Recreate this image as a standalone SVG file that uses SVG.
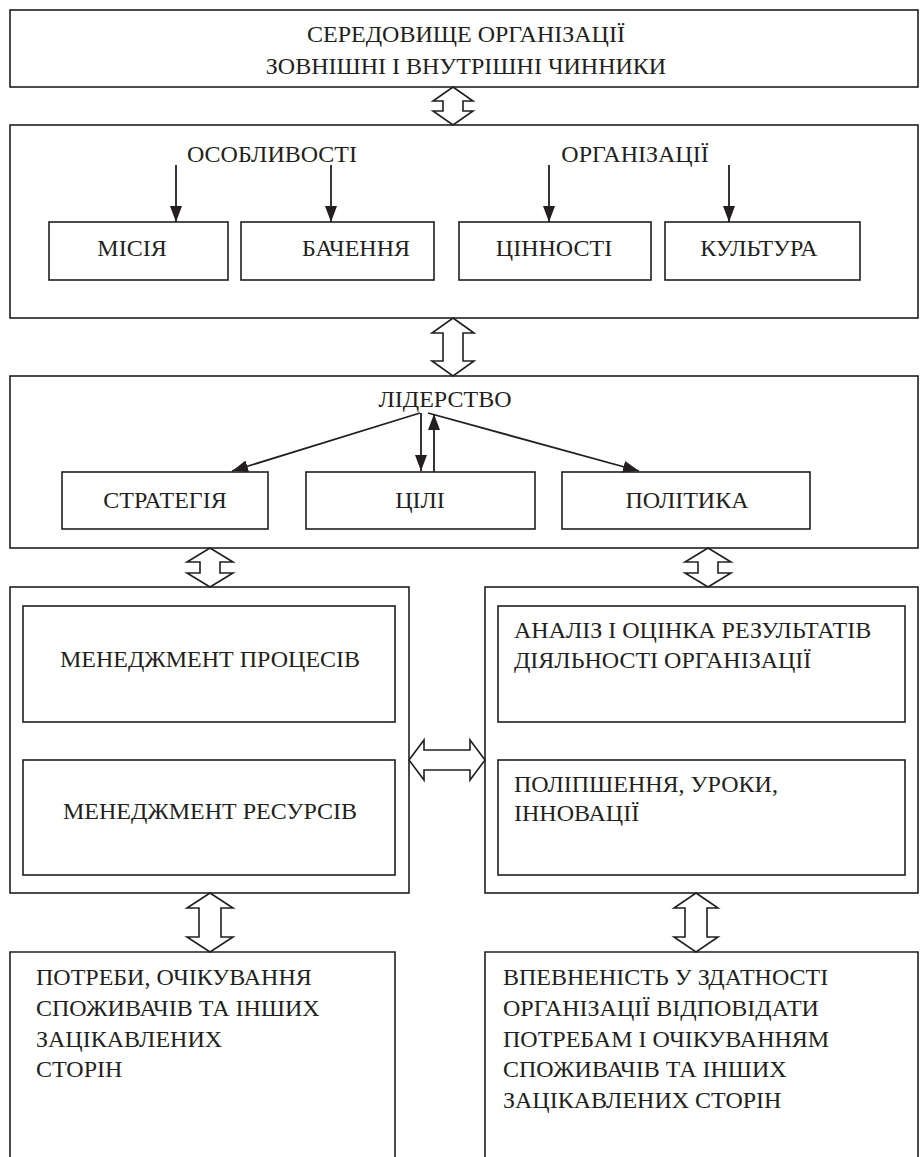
<svg xmlns="http://www.w3.org/2000/svg" width="922" height="1157" viewBox="0 0 922 1157" font-family="Liberation Serif, serif">
<style>
rect.b{fill:#fff;stroke:#231f20;stroke-width:1.6}
path.bx{fill:none;stroke:#231f20;stroke-width:1.6}
text{font-size:24px;fill:#231f20}
.c{text-anchor:middle}
.dbl{fill:#fff;stroke:#231f20;stroke-width:1.6;stroke-linejoin:miter}
.ln{stroke:#231f20;stroke-width:1.8;fill:none}
</style>
<defs>
<marker id="ahl" viewBox="0 0 16 12" refX="16" refY="6" markerWidth="16" markerHeight="12" markerUnits="userSpaceOnUse" orient="auto">
<path d="M0,0 L16,6 L0,12 z" fill="#231f20"/>
</marker>
</defs>
<rect width="922" height="1157" fill="#fff"/>

<g id="environment">
<rect class="b" x="10" y="10" width="908" height="77"/>
<text class="c" x="466" y="42" font-family="Liberation Serif">СЕРЕДОВИЩЕ ОРГАНІЗАЦІЇ</text>
<text class="c" x="466" y="74" font-family="Liberation Serif">ЗОВНІШНІ І ВНУТРІШНІ ЧИННИКИ</text>
</g>

<g id="features">
<rect class="b" x="10" y="125" width="908" height="193"/>
<text class="c" x="272" y="162">ОСОБЛИВОСТІ</text>
<text class="c" x="635" y="162">ОРГАНІЗАЦІЇ</text>
</g>
<g id="mission"><rect class="b" x="49" y="222" width="179" height="58"/><text class="c" x="132" y="256">МІСІЯ</text></g>
<g id="vision"><rect class="b" x="241" y="222" width="193" height="58"/><text class="c" x="356" y="256">БАЧЕННЯ</text></g>
<g id="values"><rect class="b" x="459" y="222" width="192" height="58"/><text class="c" x="554" y="256">ЦІННОСТІ</text></g>
<g id="culture"><rect class="b" x="665" y="222" width="195" height="58"/><text class="c" x="759" y="256">КУЛЬТУРА</text></g>

<g id="leadership">
<rect class="b" x="10" y="376" width="908" height="172"/>
<text class="c" x="445" y="407">ЛІДЕРСТВО</text>
</g>
<g id="strategy"><rect class="b" x="62" y="472" width="206" height="57"/><text class="c" x="165" y="508">СТРАТЕГІЯ</text></g>
<g id="goals"><rect class="b" x="306" y="472" width="229" height="57"/><text class="c" x="420" y="508">ЦІЛІ</text></g>
<g id="policy"><rect class="b" x="562" y="472" width="248" height="57"/><text class="c" x="687" y="508">ПОЛІТИКА</text></g>

<g id="left-block">
<rect class="b" x="10" y="587" width="399" height="306"/>
</g>
<g id="process-mgmt"><rect class="b" x="23" y="606" width="372" height="116"/><text class="c" x="210" y="667">МЕНЕДЖМЕНТ ПРОЦЕСІВ</text></g>
<g id="resource-mgmt"><rect class="b" x="23" y="760" width="372" height="115"/><text class="c" x="210" y="819">МЕНЕДЖМЕНТ РЕСУРСІВ</text></g>

<g id="right-block">
<rect class="b" x="485" y="587" width="433" height="306"/>
</g>
<g id="analysis"><rect class="b" x="498" y="606" width="407" height="116"/><text x="514" y="638">АНАЛІЗ І ОЦІНКА РЕЗУЛЬТАТІВ</text><text x="514" y="668">ДІЯЛЬНОСТІ ОРГАНІЗАЦІЇ</text></g>
<g id="improvement"><rect class="b" x="498" y="760" width="407" height="115"/><text x="514" y="792">ПОЛІПШЕННЯ, УРОКИ,</text><text x="514" y="821">ІННОВАЦІЇ</text></g>

<g id="needs">
<path class="bx" d="M10,1160 V952 H395 V1160"/>
<text x="36" y="985">ПОТРЕБИ, ОЧІКУВАННЯ</text>
<text x="36" y="1016">СПОЖИВАЧІВ ТА ІНШИХ</text>
<text x="36" y="1047">ЗАЦІКАВЛЕНИХ</text>
<text x="36" y="1077">СТОРІН</text>
</g>
<g id="confidence">
<path class="bx" d="M485,1160 V952 H918 V1160"/>
<text x="503" y="985">ВПЕВНЕНІСТЬ У ЗДАТНОСТІ</text>
<text x="503" y="1016">ОРГАНІЗАЦІЇ ВІДПОВІДАТИ</text>
<text x="503" y="1047">ПОТРЕБАМ І ОЧІКУВАННЯМ</text>
<text x="503" y="1077">СПОЖИВАЧІВ ТА ІНШИХ</text>
<text x="503" y="1108">ЗАЦІКАВЛЕНИХ СТОРІН</text>
</g>

<g id="connectors">
<path class="ln" d="M176,165 V222" marker-end="url(#ahl)"/>
<path class="ln" d="M331,165 V222" marker-end="url(#ahl)"/>
<path class="ln" d="M549,165 V222" marker-end="url(#ahl)"/>
<path class="ln" d="M729,165 V222" marker-end="url(#ahl)"/>
<path class="ln" d="M420,413 L232,471" marker-end="url(#ahl)"/>
<path class="ln" d="M421,413 V471" marker-end="url(#ahl)"/>
<path class="ln" d="M434,472 V414" marker-end="url(#ahl)"/>
<path class="ln" d="M428,413 L639,471" marker-end="url(#ahl)"/>
<polygon class="dbl" points="453,87 473,101 463,101 463,111 473,111 453,125 433,111 443,111 443,101 433,101"/>
<polygon class="dbl" points="453,318 474,333 463,333 463,361 474,361 453,376 432,361 443,361 443,333 432,333"/>
<polygon class="dbl" points="210,548 233,562 220,562 220,573 233,573 210,587 187,573 200,573 200,562 187,562"/>
<polygon class="dbl" points="708,548 731,562 718,562 718,573 731,573 708,587 685,573 698,573 698,562 685,562"/>
<polygon class="dbl" points="409,760 424,740 424,750 470,750 470,740 485,760 470,780 470,770 424,770 424,780"/>
<polygon class="dbl" points="210,893 233,908 221,908 221,937 233,937 210,952 187,937 199,937 199,908 187,908"/>
<polygon class="dbl" points="696,893 718,908 707,908 707,937 718,937 696,952 674,937 685,937 685,908 674,908"/>
</g>
</svg>
